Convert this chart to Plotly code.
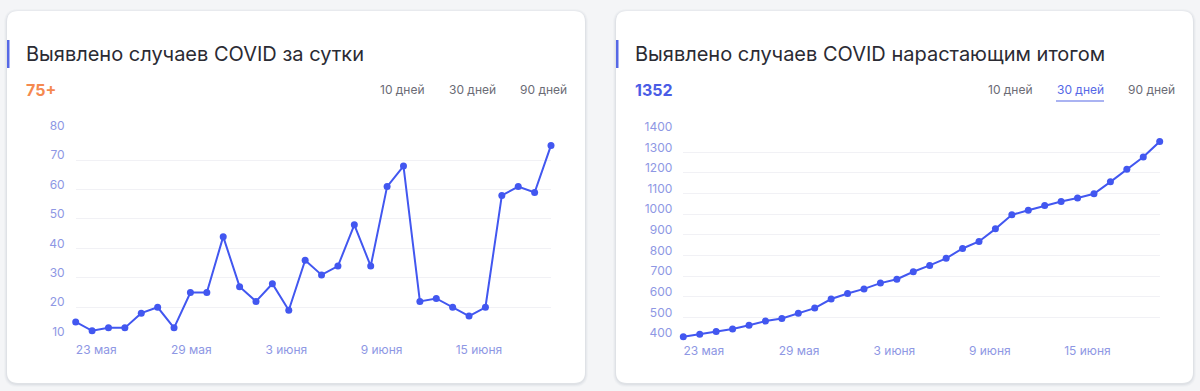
import plotly.graph_objects as go

# ---------------- data ----------------
dates = ["22 мая", "23 мая", "24 мая", "25 мая", "26 мая", "27 мая", "28 мая", "29 мая",
         "30 мая", "31 мая", "1 июня", "2 июня", "3 июня", "4 июня", "5 июня", "6 июня",
         "7 июня", "8 июня", "9 июня", "10 июня", "11 июня", "12 июня", "13 июня", "14 июня",
         "15 июня", "16 июня", "17 июня", "18 июня", "19 июня", "20 июня"]
daily_cases = [15, 12, 13, 13, 18, 20, 13, 25, 25, 44, 27, 22, 28, 19, 36, 31, 34, 48, 34, 61,
               68, 22, 23, 20, 17, 20, 58, 61, 59, 75]
total_cases = [406, 418, 431, 444, 462, 482, 495, 520, 545, 589, 616, 638, 666, 685, 721, 752,
               786, 834, 868, 929, 997, 1019, 1042, 1062, 1079, 1099, 1157, 1218, 1277, 1352]
x_tick_labels = ["23 мая", "29 мая", "3 июня", "9 июня", "15 июня"]
x_tick_pos = [1.25, 7.05, 12.85, 18.66, 24.6]
daily_y_ticks = [10, 20, 30, 40, 50, 60, 70, 80]
total_y_ticks = [400, 500, 600, 700, 800, 900, 1000, 1100, 1200, 1300, 1400]
titles = ["Выявлено случаев COVID за сутки", "Выявлено случаев COVID нарастающим итогом"]
headline = ["75+", "1352"]
period_buttons = ["10 дней", "30 дней", "90 дней"]

# ---------------- styles ----------------
W, H = 1200, 391
FONT = "Inter"
BLUE = "#4257f0"
ACCENT = "#5668e6"
TICK_COLOR = "#8e97e4"
GRID = "#f1f1f5"
BG = "#f4f5f7"


def px(x):
    return x / W


def py(y):
    return 1 - y / H


def rounded_rect(x0, y0, x1, y1, r):
    X0, X1 = px(x0), px(x1)
    Y0, Y1 = py(y0), py(y1)
    rx, ry = r / W, r / H
    return (f"M {X0 + rx},{Y0} L {X1 - rx},{Y0} Q {X1},{Y0} {X1},{Y0 - ry} "
            f"L {X1},{Y1 + ry} Q {X1},{Y1} {X1 - rx},{Y1} L {X0 + rx},{Y1} "
            f"Q {X0},{Y1} {X0},{Y1 + ry} L {X0},{Y0 - ry} Q {X0},{Y0} {X0 + rx},{Y0} Z")


idx = list(range(len(dates)))

fig = go.Figure()
fig.add_trace(go.Scatter(x=idx, y=daily_cases, text=dates, mode="lines+markers",
                         line=dict(color=BLUE, width=2), marker=dict(color=BLUE, size=7),
                         cliponaxis=False, xaxis="x", yaxis="y",
                         hovertemplate="%{text}: %{y}<extra></extra>"))
fig.add_trace(go.Scatter(x=idx, y=total_cases, text=dates, mode="lines+markers",
                         line=dict(color=BLUE, width=2), marker=dict(color=BLUE, size=7),
                         cliponaxis=False, xaxis="x2", yaxis="y2",
                         hovertemplate="%{text}: %{y}<extra></extra>"))

common_x = dict(range=[0, len(dates) - 1], showgrid=False, zeroline=False, showline=False,
                tickmode="array", tickvals=x_tick_pos, ticktext=x_tick_labels,
                tickfont=dict(family=FONT, size=12, color=TICK_COLOR), ticks="",
                ticklabelstandoff=4, automargin=False)
common_y = dict(showgrid=True, gridcolor=GRID, gridwidth=1, zeroline=False, showline=False,
                tickfont=dict(family=FONT, size=12, color=TICK_COLOR), ticks="",
                ticklabelstandoff=10, ticklabelshift=-5, tickmode="array", automargin=False)

cards = [(7, 11, 585, 383), (616, 11, 1193, 383)]
plot_x = [(75.7, 551), (683.3, 1159.7)]
plot_y = [(130.7, 336.7), (131.7, 338)]

fig.update_layout(
    width=W, height=H, margin=dict(l=0, r=0, t=0, b=0, pad=0, autoexpand=False),
    paper_bgcolor=BG, plot_bgcolor="rgba(0,0,0,0)", showlegend=False,
    xaxis=dict(domain=[px(plot_x[0][0]), px(plot_x[0][1])], anchor="y", **common_x),
    yaxis=dict(domain=[py(plot_y[0][1]), py(plot_y[0][0])], anchor="x", range=[10, 80],
               tickvals=daily_y_ticks, **common_y),
    xaxis2=dict(domain=[px(plot_x[1][0]), px(plot_x[1][1])], anchor="y2", **common_x),
    yaxis2=dict(domain=[py(plot_y[1][1]), py(plot_y[1][0])], anchor="x2", range=[400, 1400],
                tickvals=total_y_ticks, **common_y),
)

shapes = []
annotations = []
for i, (x0, y0, x1, y1) in enumerate(cards):
    # soft shadow
    for k, op in [(3, 0.025), (2, 0.035), (1, 0.05)]:
        shapes.append(dict(type="path", xref="paper", yref="paper",
                           path=rounded_rect(x0 - k, y0 - k + 1, x1 + k, y1 + k + 1, 11 + k),
                           fillcolor=f"rgba(60,70,100,{op})", line=dict(width=0), layer="below"))
    shapes.append(dict(type="path", xref="paper", yref="paper",
                       path=rounded_rect(x0, y0, x1, y1, 11),
                       fillcolor="white", line=dict(width=0), layer="below"))
    # accent bar
    shapes.append(dict(type="rect", xref="paper", yref="paper",
                       x0=px(x0), x1=px(x0 + 2.5), y0=py(68), y1=py(40),
                       fillcolor=ACCENT, line=dict(width=0), layer="below"))
    annotations.append(dict(text=titles[i], xref="paper", yref="paper", x=px(x0 + 17),
                            y=py(54), xanchor="left", yanchor="middle", showarrow=False,
                            font=dict(family=FONT, size=20, color="#2b2b33")))
    annotations.append(dict(text=f"<b>{headline[i]}</b>", xref="paper", yref="paper",
                            x=px(x0 + 17), y=py(90), xanchor="left", yanchor="middle",
                            showarrow=False,
                            font=dict(family=FONT, size=16,
                                      color="#f5894f" if i == 0 else "#4a5ce6")))
    btn_centers = [x1 - 183, x1 - 113, x1 - 42]
    for j, b in enumerate(period_buttons):
        active = (i == 1 and j == 1)
        annotations.append(dict(text=b, xref="paper", yref="paper", x=px(btn_centers[j]),
                                y=py(89), xanchor="center", yanchor="middle", showarrow=False,
                                font=dict(family=FONT, size=12,
                                          color=ACCENT if active else "#6b6b75")))
        if active:
            shapes.append(dict(type="line", xref="paper", yref="paper",
                               x0=px(btn_centers[j] - 24), x1=px(btn_centers[j] + 24),
                               y0=py(101), y1=py(101), line=dict(color=ACCENT, width=1.2)))

fig.update_layout(shapes=shapes, annotations=annotations)
fig.write_html("out.html")
